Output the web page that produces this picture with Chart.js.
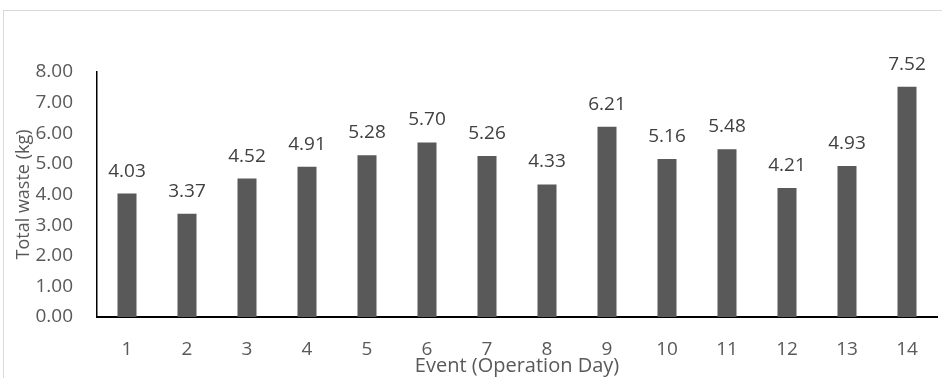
<!DOCTYPE html>
<html>
<head>
<meta charset="utf-8">
<script src="https://cdn.jsdelivr.net/npm/chart.js@4"></script>
<style>
  html, body { margin: 0; padding: 0; background: #ffffff; overflow: hidden; }
  #frame { position: absolute; left: 3px; top: 10px; width: 1200px; height: 600px; border: 1px solid #d9d9d9; box-sizing: border-box; }
  #wrap { position: absolute; left: 0; top: 0; width: 942px; height: 378px; }
</style>
</head>
<body>
<div id="frame"></div>
<div id="wrap"><canvas id="c" width="942" height="378"></canvas></div>
<script>
// Total waste collected per event (kg)
const eventDays = ['1','2','3','4','5','6','7','8','9','10','11','12','13','14'];
const wasteKg = [4.03, 3.37, 4.52, 4.91, 5.28, 5.70, 5.26, 4.33, 6.21, 5.16, 5.48, 4.21, 4.93, 7.52];
const yTickValues = [0, 1, 2, 3, 4, 5, 6, 7, 8];

const FONT = "'Open Sans', 'DejaVu Sans', sans-serif";
const TEXT = '#595959';

// Writes each bar's value just above it
const valueLabels = {
  id: 'valueLabels',
  afterDatasetsDraw(chart) {
    const ctx = chart.ctx;
    const meta = chart.getDatasetMeta(0);
    ctx.save();
    ctx.font = '19px ' + FONT;
    ctx.fillStyle = '#404040';
    ctx.textAlign = 'center';
    ctx.textBaseline = 'alphabetic';
    meta.data.forEach((bar, i) => {
      ctx.fillText(wasteKg[i].toFixed(2), bar.x, bar.y - 17);
    });
    ctx.restore();
  }
};

new Chart(document.getElementById('c'), {
  type: 'bar',
  data: {
    labels: eventDays,
    datasets: [{
      data: wasteKg,
      backgroundColor: '#595959',
      borderWidth: 0,
      categoryPercentage: 1,
      barPercentage: 0.317
    }]
  },
  options: {
    responsive: false,
    animation: false,
    events: [],
    layout: { padding: { top: 72, right: 5, bottom: 0, left: 0 } },
    plugins: { legend: { display: false }, tooltip: { enabled: false } },
    scales: {
      x: {
        grid: { display: false, drawTicks: false },
        border: { display: true, color: '#000000', width: 2 },
        ticks: { color: TEXT, font: { family: FONT, size: 19 }, padding: 21, maxRotation: 0 },
        title: { display: true, text: 'Event (Operation Day)', color: TEXT, font: { family: FONT, size: 20 }, padding: { top: 0, bottom: 0 } },
        afterFit(scale) { scale.height = 61; }
      },
      y: {
        min: 0,
        max: 8,
        grid: { display: false, drawTicks: false },
        border: { display: true, color: '#000000', width: 1.5 },
        afterBuildTicks(scale) { scale.ticks = yTickValues.map(v => ({ value: v })); },
        ticks: { color: TEXT, font: { family: FONT, size: 19 }, padding: 24, callback: v => Number(v).toFixed(2) },
        title: { display: true, text: 'Total waste (kg)', color: TEXT, font: { family: FONT, size: 18 }, padding: { top: 13, bottom: 0 } },
        afterFit(scale) { scale.width = 97; }
      }
    }
  },
  plugins: [valueLabels]
});
</script>
</body>
</html>
